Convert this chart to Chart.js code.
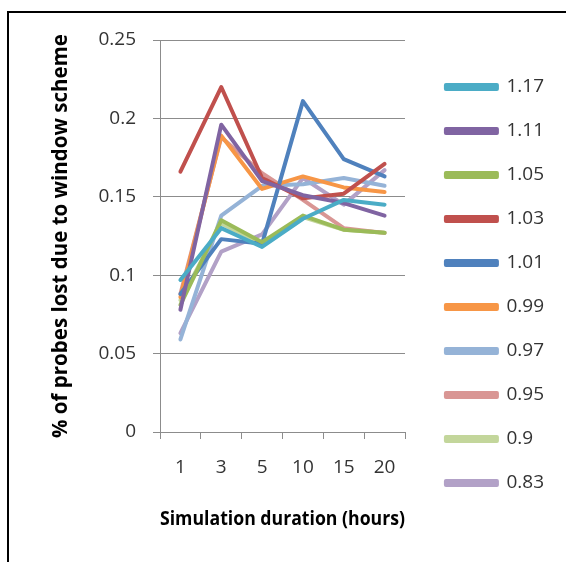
<!DOCTYPE html>
<html>
<head>
<meta charset="utf-8">
<script src="https://cdn.jsdelivr.net/npm/chart.js@4.4.0/dist/chart.umd.min.js"></script>
<style>
    body { margin: 0; background: #fff; }
    #wrap { position: relative; width: 566px; height: 562px; overflow: hidden; }
    #frame { position: absolute; left: 7px; top: 11px; width: 600px; height: 600px; border-left: 2px solid #000; border-top: 2px solid #000; }
    #trendChart { position: absolute; left: 0; top: 0; }
</style>
</head>
<body>
<div id="wrap">
    <div id="frame"></div>
    <canvas id="trendChart" width="566" height="562"></canvas>
</div>
<script>
// chart data
const durations = ["1", "3", "5", "10", "15", "20"];
const seriesNames = ["1.17", "1.11", "1.05", "1.03", "1.01", "0.99", "0.97", "0.95", "0.9", "0.83"];
const s117 = [0.097, 0.130, 0.118, 0.136, 0.148, 0.145];
const s111 = [0.078, 0.196, 0.160, 0.151, 0.146, 0.138];
const s105 = [0.081, 0.135, 0.121, 0.138, 0.129, 0.127];
const s103 = [0.166, 0.220, 0.162, 0.149, 0.152, 0.171];
const s101 = [0.088, 0.123, 0.120, 0.211, 0.174, 0.163];
const s099 = [0.086, 0.189, 0.155, 0.163, 0.156, 0.153];
const s097 = [0.059, 0.138, 0.157, 0.158, 0.162, 0.157];
const s095 = [0.088, 0.188, 0.165, 0.148, 0.130, 0.127];
const s090 = [0.084, 0.133, 0.120, 0.137, 0.129, 0.127];
const s083 = [0.063, 0.115, 0.126, 0.162, 0.145, 0.167];
const yTicks = [0, 0.05, 0.1, 0.15, 0.2, 0.25];

const seriesValues = [s117, s111, s105, s103, s101, s099, s097, s095, s090, s083];
const seriesColors = ["#4bacc6", "#8064a2", "#9bbb59", "#c0504d", "#4f81bd",
                      "#f79646", "#95b3d7", "#d99694", "#c3d69b", "#b2a1c7"];

const gridGray = "#8c8c8c";
const textColor = "#333";

document.addEventListener("DOMContentLoaded", function () {
    setupChart();
});

function setupChart() {
    const ctx = document.getElementById("trendChart").getContext("2d");

    new Chart(ctx, {
        type: "line",
        data: {
            labels: durations,
            datasets: seriesNames.map((name, i) => ({
                label: name,
                data: seriesValues[i],
                borderColor: seriesColors[i],
                backgroundColor: seriesColors[i],
                borderWidth: 4,
                pointRadius: 0,
                tension: 0,
                borderJoinStyle: "round",
                borderCapStyle: "round",
                fill: false,
            })),
        },
        options: {
            responsive: false,
            animation: false,
            layout: {
                padding: { top: 8, left: 20, right: 12, bottom: 0 },
            },
            plugins: {
                tooltip: { enabled: false },
                // empty title only used as a spacer above the plot
                title: {
                    display: true,
                    text: "",
                    fullSize: false,
                    font: { size: 10 },
                    padding: { top: 20, bottom: 0 },
                },
                legend: {
                    position: "right",
                    align: "center",
                    maxWidth: 170,
                    labels: {
                        boxWidth: 51,
                        boxHeight: 4,
                        padding: 25,
                        color: textColor,
                        font: { family: "'Open Sans'", size: 19 },
                    },
                },
            },
            scales: {
                x: {
                    offset: true,
                    grid: {
                        display: true,
                        drawOnChartArea: false,
                        drawTicks: true,
                        tickLength: 7,
                        offset: true,
                        color: gridGray,
                    },
                    border: { color: gridGray },
                    ticks: {
                        color: textColor,
                        padding: 17,
                        maxRotation: 0,
                        font: { family: "'Open Sans'", size: 19 },
                    },
                    title: {
                        display: true,
                        text: "Simulation duration (hours)",
                        color: "#000",
                        padding: { top: 0, bottom: 31 },
                        font: { family: "'Open Sans'", size: 20, weight: "bold" },
                    },
                    afterFit: s => { s.height = 130; },
                },
                y: {
                    min: 0,
                    max: 0.25,
                    grid: {
                        color: gridGray,
                        tickLength: 7,
                    },
                    border: { color: gridGray },
                    afterBuildTicks: s => { s.ticks = yTicks.map(v => ({ value: v })); },
                    ticks: {
                        color: textColor,
                        padding: 17,
                        callback: v => String(v),
                        font: { family: "'Open Sans'", size: 19 },
                    },
                    title: {
                        display: true,
                        text: "% of probes lost due to window scheme",
                        color: "#000",
                        padding: { top: 29, bottom: 0 },
                        font: { family: "'Open Sans'", size: 20.5, weight: "bold" },
                    },
                    afterFit: s => { s.width = 140; },
                },
                // spacer between plot and legend
                gap: {
                    position: "right",
                    display: true,
                    grid: { display: false },
                    border: { display: false },
                    ticks: { display: false },
                    afterFit: s => {
                        s.width = Math.max(0, s.chart.width - 12 - s.chart.legend.width - 405);
                    },
                },
            },
        },
    });
}
</script>
</body>
</html>
